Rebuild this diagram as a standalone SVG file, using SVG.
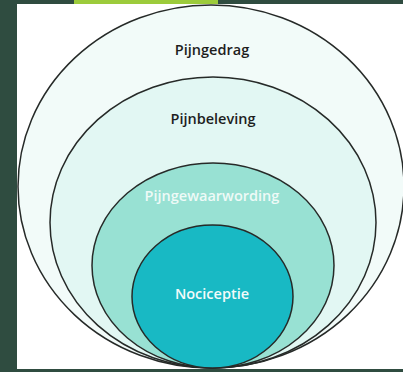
<svg xmlns="http://www.w3.org/2000/svg" width="403" height="372" viewBox="0 0 403 372">
<style>
.ring{stroke:#262a28;stroke-width:1.5}
.lbl{font-family:"Open Sans","Noto Sans","Liberation Sans",sans-serif;font-weight:600;font-size:14.5px;text-anchor:middle}
</style>
<rect x="0" y="0" width="403" height="372" fill="#2f4c40"/>
<rect x="74" y="0" width="144" height="4" fill="#9ccb3b"/>
<rect x="17" y="4" width="386" height="365" fill="#ffffff"/>
<g id="pijngedrag">
<ellipse class="ring" cx="211" cy="186.5" rx="193" ry="181.5" fill="#f2fbf9"/>
<text class="lbl" x="212" y="55" fill="#1e1e1e">Pijngedrag</text>
</g>
<g id="pijnbeleving">
<ellipse class="ring" cx="213" cy="222.5" rx="163" ry="145.5" fill="#e2f7f3"/>
<text class="lbl" x="213" y="124" fill="#1e1e1e">Pijnbeleving</text>
</g>
<g id="pijngewaarwording">
<ellipse class="ring" cx="213" cy="265.5" rx="121" ry="102.5" fill="#98e1d3"/>
<text class="lbl" x="212" y="201" fill="#eefaf7">Pijngewaarwording</text>
</g>
<g id="nociceptie">
<ellipse class="ring" cx="212.5" cy="296.5" rx="80.5" ry="71.5" fill="#18b9c4"/>
<text class="lbl" x="212" y="299" fill="#f2fbfa">Nociceptie</text>
</g>
<g id="connectors"/>
</svg>
